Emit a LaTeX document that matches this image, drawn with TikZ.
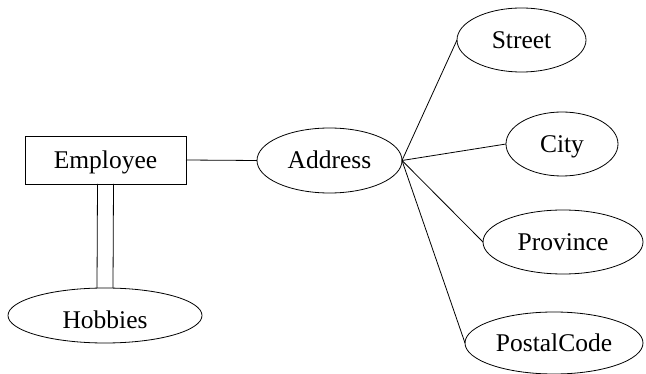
\documentclass[tikz,border=0pt]{standalone}
\usepackage{fontspec}
\setmainfont{Liberation Serif}
\usetikzlibrary{shapes.geometric}
\begin{document}
\begin{tikzpicture}[x=1pt,y=-1pt,
  every node/.style={font=\fontsize{25.5}{30}\selectfont, inner sep=0pt, outer sep=0pt, line width=0.8pt, text height=17pt, text depth=0pt},
  entity/.style={draw, rectangle, minimum width=161pt, minimum height=48pt},
  attr/.style={draw, ellipse},
  conn/.style={line width=0.8pt}]
\useasboundingbox (0,0) rectangle (646,374);
\node[entity] (emp) at (105.5,160) {Employee};
\node[attr, minimum width=145pt, minimum height=65pt] (addr) at (329.5,160.5) {Address};
\node[attr, minimum width=129pt, minimum height=64pt] (street) at (521.5,40) {Street};
\node[attr, minimum width=112pt, minimum height=64pt] (city) at (562,144) {City};
\node[attr, minimum width=160pt, minimum height=64pt] (prov) at (563,242) {Province};
\node[attr, minimum width=178pt, minimum height=62pt] (postal) at (554,343) {PostalCode};
\node[attr, minimum width=194pt, minimum height=55pt, text height=27pt] (hob) at (105,315.5) {Hobbies};
\draw[conn] (emp.east) -- (addr.west);
\draw[conn] (addr.east) -- (street.west);
\draw[conn] (addr.east) -- (city.west);
\draw[conn] (addr.east) -- (prov.west);
\draw[conn] (addr.east) -- (postal.west);
\draw[conn] ([xshift=-8pt]emp.south) -- ([xshift=-8pt]hob.north);
\draw[conn] ([xshift=8pt]emp.south) -- ([xshift=8pt]hob.north);
\end{tikzpicture}
\end{document}
